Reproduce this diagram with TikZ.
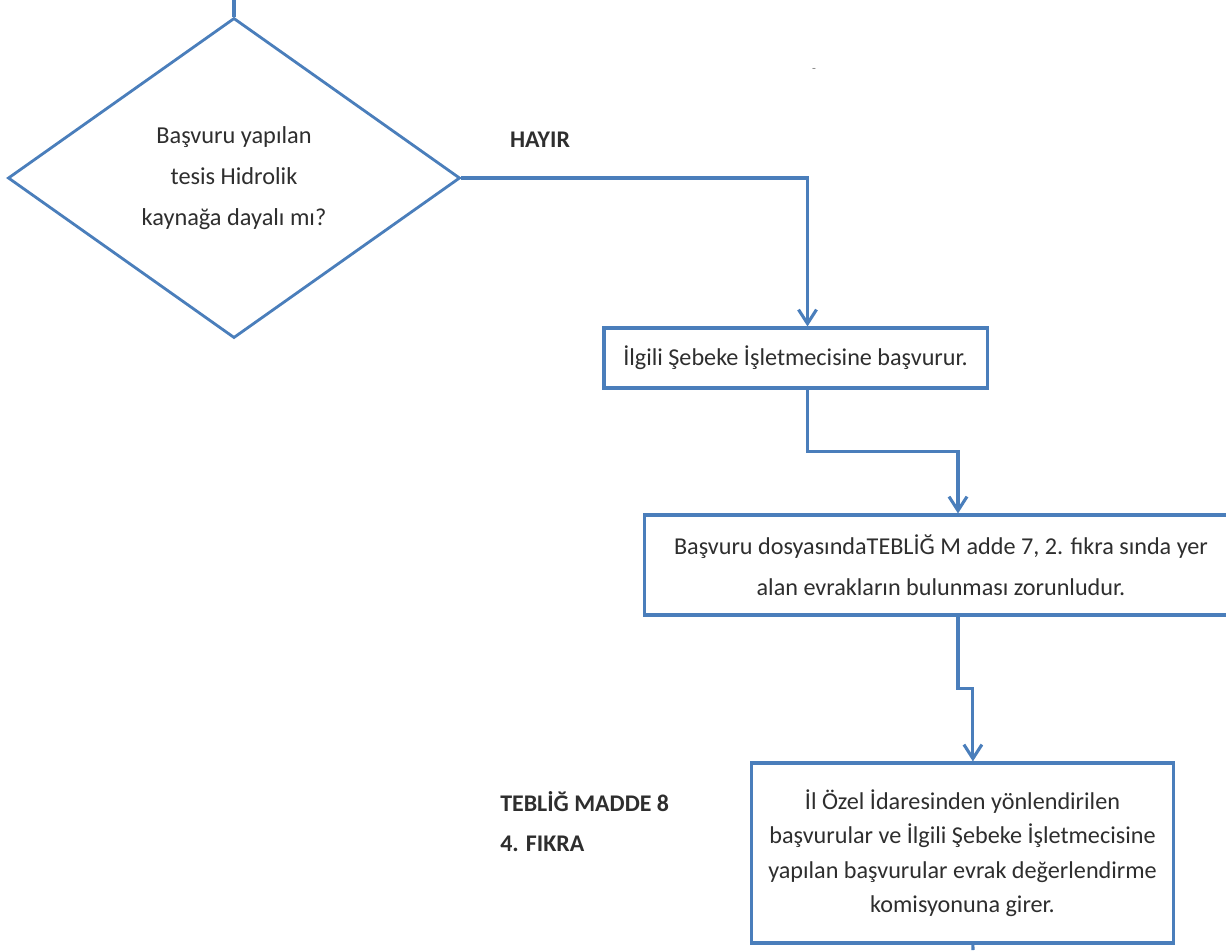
\documentclass[tikz,border=0pt]{standalone}
\usepackage{fontspec}
\setmainfont{Carlito}
\usepackage{tikz}
\usepackage{color}
\usetikzlibrary{
    shapes,
    arrows.meta,
    positioning,
    calc,
    shapes.geometric,
}
\definecolor{flowblue}{HTML}{4A7EBB}
\definecolor{flowtext}{HTML}{2E2E2E}

\begin{document}
\begin{tikzpicture}[
    x=0.025cm, y=-0.025cm,
    flowbox/.style={draw=flowblue, line width=2.2pt, fill=white,
    text=flowtext, align=center, inner sep=0pt,
    font=\fontsize{17.2}{29}\selectfont},
    decision/.style={diamond, draw=flowblue, line width=2pt, fill=white,
    text=flowtext, align=center, inner sep=0pt, minimum width=11.3cm,
minimum height=8cm, font=\fontsize{17.3}{29}\selectfont},
    flowline/.style={draw=flowblue, line width=2.2pt},
    flowarrow/.style={flowline, -{Straight Barb[length=0.35cm, width=0.45cm]}},
    tag/.style={text=flowtext, align=left, inner sep=0pt,
    font=\bfseries\fontsize{17}{29}\selectfont},
]

\clip (0,0) rectangle (1226,950);

% DECISION
\coordinate (in_top) at (234,0);
\node[decision] at (234,178) (dia) {Başvuru yapılan\\tesis Hidrolik\\kaynağa
    dayalı mı?};
\draw[flowline] (in_top) -- (dia.north);

% HAYIR BRANCH
\node[tag] at (540,140) (hayir) {HAYIR};
\node[text=gray, font=\small] at (814,70) (dash) {-};

% BOXES
\node[flowbox, minimum width=9.575cm, minimum height=1.5cm] at (795.5,358)
    (ilgili) {İlgili Şebeke İşletmecisine başvurur.};
\node[flowbox, minimum width=14.8cm, minimum height=2.5cm] at (941,565)
    (dosya) {Başvuru dosyasındaTEBLİĞ M adde 7, 2. fıkra sında yer\\alan
    evrakların bulunması zorunludur.};
\node[flowbox, minimum width=10.525cm, minimum height=4.5cm,
    font=\fontsize{17.2}{24.5}\selectfont] at (962.5,853) (komisyon)
    {İl Özel İdaresinden yönlendirilen\\başvurular ve İlgili Şebeke
    İşletmecisine\\yapılan başvurular evrak değerlendirme\\komisyonuna
    girer.};

% SIDE LABEL
\node[tag, anchor=west, font=\bfseries\fontsize{17}{28.5}\selectfont] at
    (500,822) (madde) {TEBLİĞ MADDE 8\\4. FIKRA};

% CONNECTORS
\coordinate (out_bot) at (973,950);
\draw[flowarrow] (dia.east) -| ([xshift=0.3cm]ilgili.north);
\draw[flowarrow] ([xshift=0.3cm]ilgili.south) -- ++(0,62)
    -| ([xshift=0.425cm]dosya.north);
\draw[flowarrow] ([xshift=0.425cm]dosya.south) -- ++(0,72)
    -| ([xshift=0.26cm]komisyon.north);
\draw[flowline] ([xshift=0.26cm]komisyon.south) -- (out_bot);

\end{tikzpicture}
\end{document}
